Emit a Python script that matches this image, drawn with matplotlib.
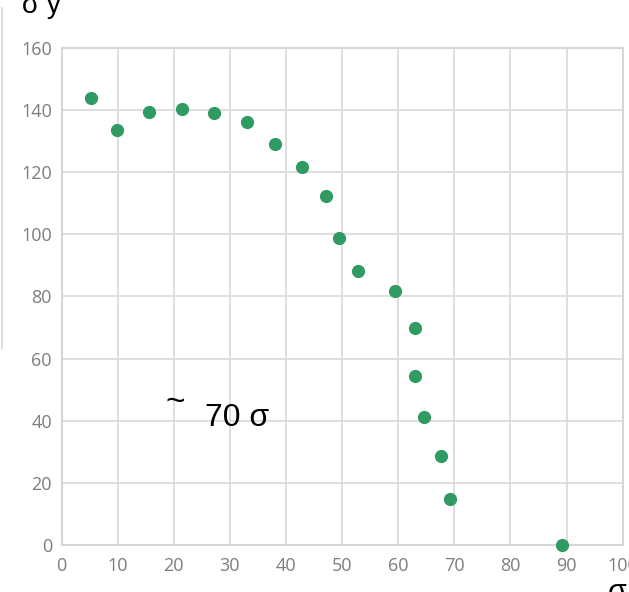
import matplotlib.pyplot as plt
from matplotlib.lines import Line2D

# Measured points (sigma, sigma y)
sigma = [5.2, 9.9, 15.6, 21.5, 27.2, 33.1, 38.1, 42.9, 47.2, 49.5,
         52.9, 59.5, 62.9, 62.9, 64.5, 67.7, 69.3, 89.1]
sigma_y = [143.9, 133.6, 139.4, 140.4, 139.1, 136.2, 129.1, 121.7, 112.4, 98.8,
           88.2, 81.8, 69.9, 54.4, 41.2, 28.7, 14.8, 0.0]

x_ticks = [0, 10, 20, 30, 40, 50, 60, 70, 80, 90, 100]
y_ticks = [0, 20, 40, 60, 80, 100, 120, 140, 160]

fig = plt.figure(figsize=(6.29, 5.92), dpi=100)
ax = fig.add_axes([0.098, 0.0794, 0.892, 0.8396])

ax.scatter(sigma, sigma_y, s=72, color='#2f9a62', zorder=3, clip_on=False)

ax.set_xlim(0, 100)
ax.set_ylim(0, 160)
ax.set_xticks(x_ticks)
ax.set_yticks(y_ticks)
ax.grid(True, color='#dcdcdc', linewidth=1.3)
ax.set_axisbelow(True)
for s in ax.spines.values():
    s.set_color('#d6d6d6')
    s.set_linewidth(1.5)
ax.tick_params(axis='x', length=0, pad=9)
ax.tick_params(axis='y', length=0, pad=7)
ax.tick_params(labelsize=13, labelcolor='#7d7d7d')
for lbl in ax.get_xticklabels() + ax.get_yticklabels():
    lbl.set_family('Open Sans')

# Annotation
ax.text(25.6, 40.9, '70 σ', fontsize=23, family='Liberation Sans', va='center', ha='left')
ax.text(20.2, 46.0, '~', fontsize=24, family='Liberation Sans', va='center', ha='center')

# Axis titles sitting at the figure corners
fig.text(22 / 629, 1 - 13 / 592, 'σ y', fontsize=20, family='Liberation Sans',
         va='baseline', ha='left')
fig.text(608 / 629, 1 - 578 / 592, 'σ', fontsize=22, family='Liberation Sans',
         va='top', ha='left')

fig.add_artist(Line2D([2 / 629, 2 / 629], [1 - 8 / 592, 1 - 348 / 592],
                      color='#d8d8d8', linewidth=1.2, transform=fig.transFigure))

fig.savefig('out.png', dpi=100)
